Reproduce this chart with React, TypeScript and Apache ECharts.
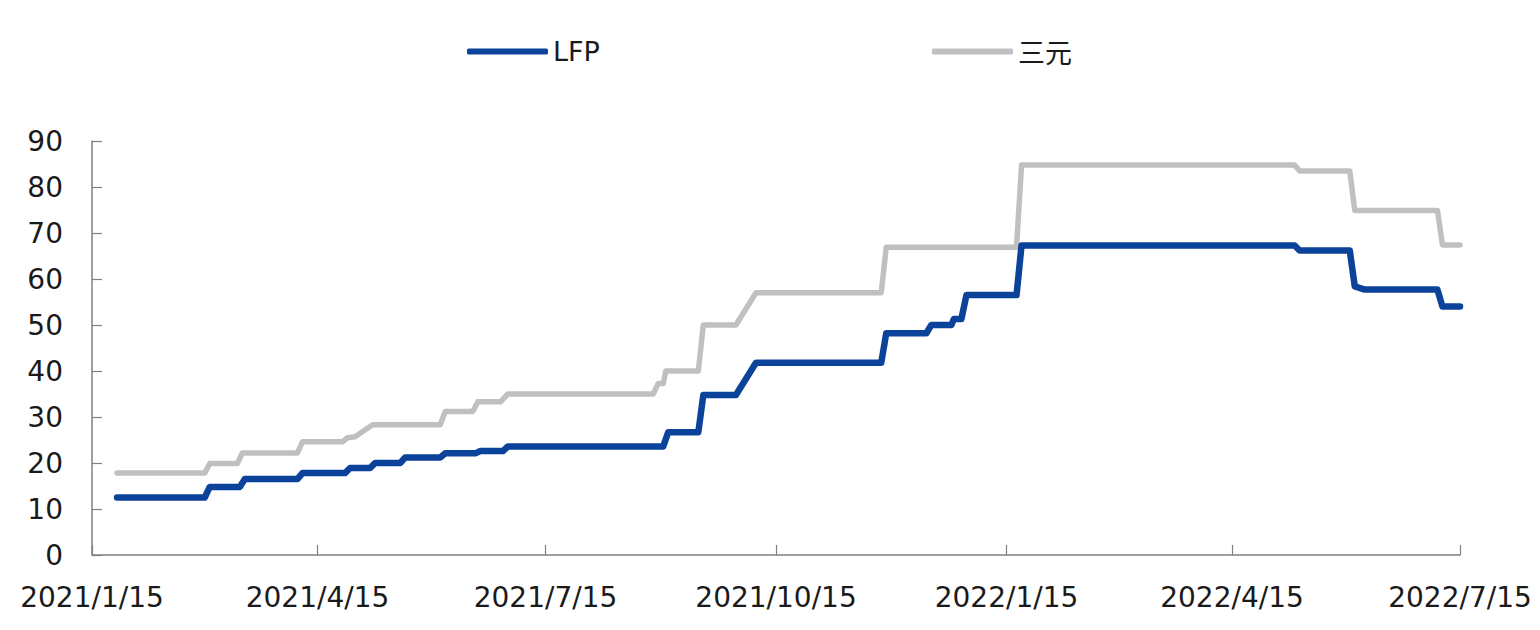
import React, { useEffect, useRef } from "react";
import * as echarts from "echarts";

const xTickDates = ["2021-01-15", "2021-04-15", "2021-07-15", "2021-10-15", "2022-01-15", "2022-04-15", "2022-07-15"];
const yTicks = [0, 10, 20, 30, 40, 50, 60, 70, 80, 90];

const lfpDates = [
  "2021-01-25", "2021-03-01", "2021-03-03", "2021-03-15", "2021-03-17", "2021-04-07", "2021-04-09",
  "2021-04-26", "2021-04-28", "2021-05-06", "2021-05-08", "2021-05-18", "2021-05-20", "2021-06-03",
  "2021-06-05", "2021-06-17", "2021-06-19", "2021-06-28", "2021-06-30", "2021-08-31", "2021-09-02",
  "2021-09-14", "2021-09-16", "2021-09-29", "2021-10-07", "2021-11-26", "2021-11-28", "2021-12-14",
  "2021-12-16", "2021-12-24", "2021-12-25", "2021-12-28", "2021-12-30", "2022-01-19", "2022-01-21",
  "2022-05-10", "2022-05-12", "2022-06-01", "2022-06-03", "2022-06-07", "2022-07-06", "2022-07-08",
  "2022-07-15",
];
const lfpValues = [
  12.5, 12.5, 14.8, 14.8, 16.5, 16.5, 17.8,
  17.8, 18.9, 18.9, 20.0, 20.0, 21.2, 21.2,
  22.1, 22.1, 22.6, 22.6, 23.6, 23.6, 26.7,
  26.7, 34.8, 34.8, 41.8, 41.8, 48.2, 48.2,
  50.0, 50.0, 51.3, 51.3, 56.5, 56.5, 67.3,
  67.3, 66.2, 66.2, 58.4, 57.7, 57.7, 54.0,
  54.0,
];

const ncmDates = [
  "2021-01-25", "2021-03-01", "2021-03-03", "2021-03-14", "2021-03-16", "2021-04-07", "2021-04-09",
  "2021-04-25", "2021-04-27", "2021-04-30", "2021-05-07", "2021-06-03", "2021-06-05", "2021-06-16",
  "2021-06-18", "2021-06-27", "2021-06-30", "2021-08-27", "2021-08-29", "2021-08-31", "2021-09-01",
  "2021-09-14", "2021-09-16", "2021-09-29", "2021-10-07", "2021-11-26", "2021-11-28", "2022-01-19",
  "2022-01-21", "2022-05-10", "2022-05-12", "2022-06-01", "2022-06-03", "2022-07-06", "2022-07-08",
  "2022-07-15",
];
const ncmValues = [
  17.8, 17.8, 19.9, 19.9, 22.2, 22.2, 24.6,
  24.6, 25.5, 25.7, 28.3, 28.3, 31.2, 31.2,
  33.3, 33.3, 35.0, 35.0, 37.3, 37.3, 40.0,
  40.0, 50.0, 50.0, 57.0, 57.0, 66.9, 66.9,
  84.8, 84.8, 83.5, 83.5, 74.9, 74.9, 67.4,
  67.4,
];

function ts(s: string): number {
  const [y, m, d] = s.split("-").map(Number);
  return Date.UTC(y, m - 1, d);
}

function fmt(v: number): string {
  const d = new Date(v);
  return `${d.getUTCFullYear()}/${d.getUTCMonth() + 1}/${d.getUTCDate()}`;
}

const FONT = "'DejaVu Sans', Verdana, sans-serif";

export default function App() {
  const ref = useRef<HTMLDivElement>(null);
  useEffect(() => {
    if (!ref.current) return;
    const chart = echarts.init(ref.current, null, { renderer: "svg" });
    const tickTs = xTickDates.map(ts);
    chart.setOption({
      animation: false,
      backgroundColor: "#ffffff",
      legend: [
        {
          data: ["LFP"],
          left: 462,
          top: 33,
          icon: "roundRect",
          itemWidth: 81,
          itemHeight: 6,
          textStyle: { fontSize: 27, color: "#1a1a1a", fontFamily: FONT },
        },
        {
          data: ["三元"],
          left: 927,
          top: 33,
          icon: "roundRect",
          itemWidth: 81,
          itemHeight: 6,
          textStyle: { fontSize: 27, color: "#1a1a1a", fontFamily: "'Noto Sans CJK SC', sans-serif" },
        },
      ],
      grid: { left: 92, right: 80, top: 141, bottom: 75, containLabel: false },
      xAxis: {
        type: "value",
        min: tickTs[0],
        max: tickTs[tickTs.length - 1],
        axisLine: { show: true, lineStyle: { color: "#808080", width: 1.5 } },
        axisTick: { show: true, inside: true, length: 10, customValues: tickTs, lineStyle: { color: "#808080", width: 1.2 } },
        axisLabel: {
          customValues: tickTs,
          formatter: (v: number) => fmt(v),
          fontSize: 28,
          color: "#1a1a1a",
          fontFamily: FONT,
          margin: 28,
        },
        splitLine: { show: false },
      },
      yAxis: {
        type: "value",
        min: yTicks[0],
        max: yTicks[yTicks.length - 1],
        interval: 10,
        axisLine: { show: true, lineStyle: { color: "#808080", width: 1.5 } },
        axisTick: { show: true, inside: true, length: 10, lineStyle: { color: "#808080", width: 1.2 } },
        axisLabel: { fontSize: 28, color: "#1a1a1a", fontFamily: FONT, margin: 29 },
        splitLine: { show: false },
      },
      series: [
        {
          name: "LFP",
          type: "line",
          data: lfpDates.map((d, i) => [ts(d), lfpValues[i]]),
          showSymbol: false,
          symbol: "none",
          lineStyle: { color: "#0b439b", width: 6.5, cap: "round", join: "round" },
          itemStyle: { color: "#0b439b" },
          z: 3,
        },
        {
          name: "三元",
          type: "line",
          data: ncmDates.map((d, i) => [ts(d), ncmValues[i]]),
          showSymbol: false,
          symbol: "none",
          lineStyle: { color: "#c0c0c0", width: 5.5, cap: "round", join: "round" },
          itemStyle: { color: "#c0c0c0" },
          z: 2,
        },
      ],
    });
    return () => chart.dispose();
  }, []);
  return (
    <div
      ref={ref}
      style={{ position: "fixed", left: 0, top: 0, width: 1540, height: 630, background: "#fff" }}
    />
  );
}
